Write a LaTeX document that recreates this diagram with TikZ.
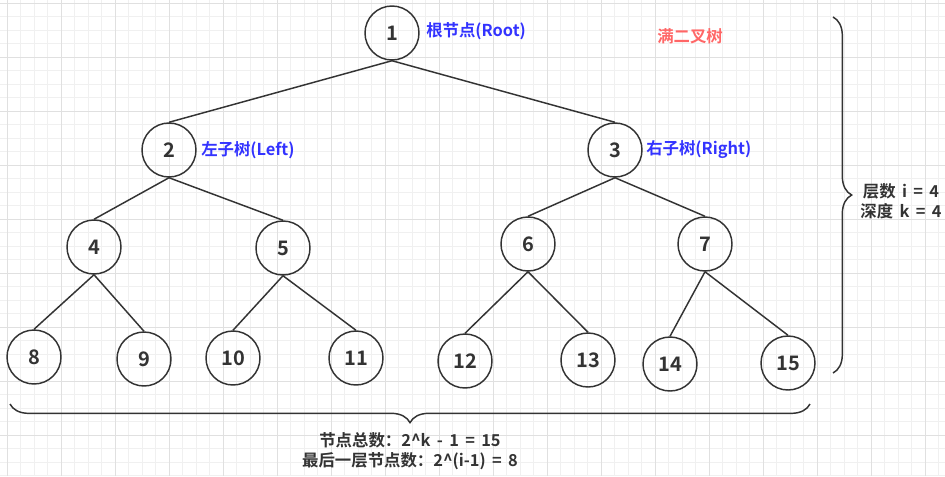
\documentclass[tikz,border=0pt]{standalone}
\usepackage{fontspec}
\setmainfont{Noto Sans CJK SC}[BoldFont={Noto Sans CJK SC Bold}]
\newfontfamily\infofont{Noto Sans CJK SC Bold}[WordSpace=1.7]
\usetikzlibrary{decorations.pathreplacing}
\definecolor{ink}{HTML}{333333}
\definecolor{lblue}{HTML}{3333FF}
\definecolor{lred}{HTML}{FF6666}
\definecolor{gminor}{HTML}{F0F0F0}
\definecolor{gmajor}{HTML}{E0E0E0}
\tikzset{
  tnode/.style={circle,draw=ink,line width=1.1pt,minimum size=40.5pt,inner sep=0pt,
    text=ink,font=\fontsize{15}{15}\selectfont\bfseries},
  edge/.style={draw=ink,line width=1.1pt},
  lbl/.style={text=lblue,font=\fontsize{12.3}{14}\selectfont\bfseries,anchor=west,inner sep=0pt},
  info/.style={text=ink,font=\infofont\fontsize{12.3}{15}\selectfont,align=center,inner sep=0pt},
  bracestyle/.style={draw=ink,line width=1.1pt,decorate,decoration={brace,amplitude=14pt}},
}
\begin{document}
\begin{tikzpicture}[x=0.75pt,y=-0.75pt]
\useasboundingbox (0,0) rectangle (945,476);
\fill[white] (0,0) rectangle (945,476);
% grid
\foreach \i in {0,...,70} {\draw[gminor,line width=0.75pt] ({7.3+13.5*\i},0) -- ({7.3+13.5*\i},476);}
\foreach \i in {0,...,35} {\draw[gminor,line width=0.75pt] (0,{3.3+13.5*\i}) -- (945,{3.3+13.5*\i});}
\foreach \i in {0,...,17} {\draw[gmajor,line width=0.75pt] ({7.3+54*\i},0) -- ({7.3+54*\i},476);}
\foreach \i in {0,...,8} {\draw[gmajor,line width=0.75pt] (0,{3.3+54*\i}) -- (945,{3.3+54*\i});}
% nodes
\node[tnode] (n1) at (392,33) {1};
\node[tnode] (n2) at (169,150) {2};
\node[tnode] (n3) at (615,150) {3};
\node[tnode] (n4) at (94,247) {4};
\node[tnode] (n5) at (283,248) {5};
\node[tnode] (n6) at (528,244) {6};
\node[tnode] (n7) at (705,244) {7};
\node[tnode] (n8) at (34,357) {8};
\node[tnode] (n9) at (144,359) {9};
\node[tnode] (n10) at (233,358) {10};
\node[tnode] (n11) at (356,358) {11};
\node[tnode] (n12) at (465,361) {12};
\node[tnode] (n13) at (588,360) {13};
\node[tnode] (n14) at (670,364) {14};
\node[tnode] (n15) at (788,363) {15};
% edges
\path[edge] (n1.south) -- (n2.north);
\path[edge] (n1.south) -- (n3.north);
\path[edge] (n2.south) -- (n4.north);
\path[edge] (n2.south) -- (n5.north);
\path[edge] (n3.south) -- (n6.north);
\path[edge] (n3.south) -- (n7.north);
\path[edge] (n4.south) -- (n8.north);
\path[edge] (n4.south) -- (n9.north);
\path[edge] (n5.south) -- (n10.north);
\path[edge] (n5.south) -- (n11.north);
\path[edge] (n6.south) -- (n12.north);
\path[edge] (n6.south) -- (n13.north);
\path[edge] (n7.south) -- (n14.north);
\path[edge] (n7.south) -- (n15.north);
% labels
\node[lbl] (lroot) at (426,31) {根节点(Root)};
\node[lbl] (lleft) at (201,150) {左子树(Left)};
\node[lbl] (lright) at (646,150) {右子树(Right)};
\node[text=lred,font=\fontsize{12.3}{14}\selectfont\bfseries,anchor=west,inner sep=0pt] (title) at (657,36) {满二叉树};
% braces
\coordinate (rb1) at (833,17);
\coordinate (rb2) at (833,373);
\draw[bracestyle] (rb1) -- (rb2);
\coordinate (bb1) at (810,404);
\coordinate (bb2) at (10,404);
\draw[bracestyle] (bb1) -- (bb2);
\node[info] (depth) at (901,201) {层数 i = 4\\深度 k = 4};
\node[info] (count) at (410,451.5) {节点总数：2\^{}k - 1 = 15\\最后一层节点数：2\^{}(i-1) = 8};
\end{tikzpicture}
\end{document}
